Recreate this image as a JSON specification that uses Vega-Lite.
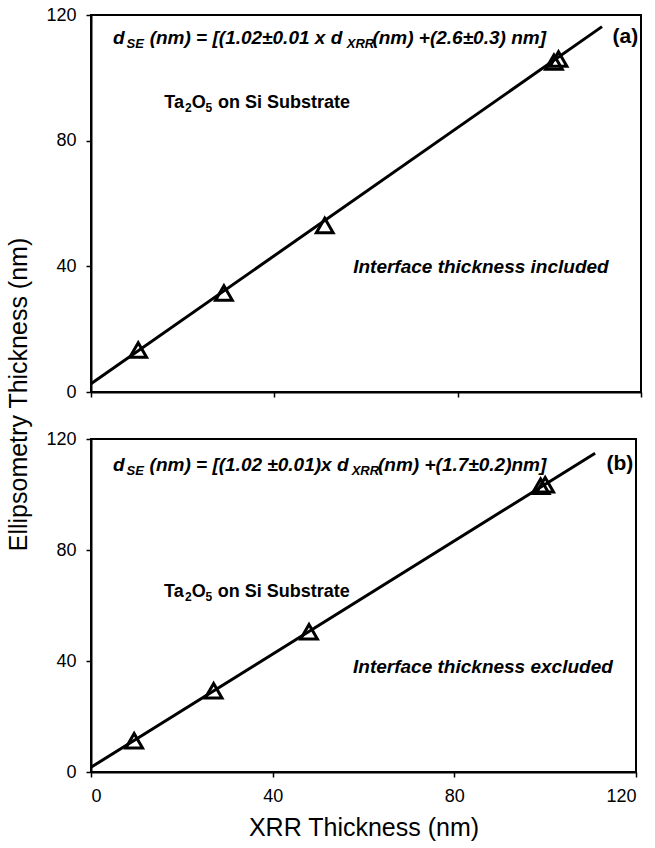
{
  "$schema": "https://vega.github.io/schema/vega-lite/v6.json",
  "padding": {"left": 5, "top": 5, "right": 5, "bottom": 5},
  "background": "white",
  "bounds": "flush",
  "spacing": 47,
  "datasets": {
    "pts": [
      {"panel": "a", "xrr": 10.3, "se": 13.4},
      {"panel": "a", "xrr": 29.0, "se": 31.5},
      {"panel": "a", "xrr": 51.0, "se": 53.0},
      {"panel": "a", "xrr": 101.0, "se": 105.0},
      {"panel": "a", "xrr": 102.0, "se": 106.0},
      {"panel": "b", "xrr": 9.5, "se": 11.3},
      {"panel": "b", "xrr": 27.0, "se": 29.3},
      {"panel": "b", "xrr": 48.0, "se": 50.5},
      {"panel": "b", "xrr": 99.0, "se": 103.0},
      {"panel": "b", "xrr": 100.0, "se": 103.5}
    ],
    "fit": [
      {"panel": "a", "xrr": 0, "se": 2.6},
      {"panel": "a", "xrr": 111.5, "se": 116.3},
      {"panel": "b", "xrr": 0, "se": 1.7},
      {"panel": "b", "xrr": 111.0, "se": 114.9}
    ],
    "notes": [
      {"panel": "a", "part": "eq", "x": 4.8, "y": 112.7, "text": "d"},
      {"panel": "a", "part": "eqsub", "x": 7.77, "y": 112.7, "text": "SE"},
      {"panel": "a", "part": "eq", "x": 12.8, "y": 112.7, "text": "(nm) = [(1.02±0.01 x d"},
      {"panel": "a", "part": "eqsub", "x": 55.8, "y": 112.7, "text": "XRR"},
      {"panel": "a", "part": "eq", "x": 61.4, "y": 112.7, "text": "(nm) +(2.6±0.3) nm]"},
      {"panel": "a", "part": "ta", "x": 16.0, "y": 92.0, "text": "Ta"},
      {"panel": "a", "part": "tasub", "x": 20.5, "y": 92.0, "text": "2"},
      {"panel": "a", "part": "ta", "x": 22.0, "y": 92.0, "text": "O"},
      {"panel": "a", "part": "tasub", "x": 25.0, "y": 92.0, "text": "5"},
      {"panel": "a", "part": "ta", "x": 27.7, "y": 92.0, "text": "on Si Substrate"},
      {"panel": "a", "part": "note", "x": 57.2, "y": 39.8, "text": "Interface thickness included"},
      {"panel": "a", "part": "tag", "x": 119.4, "y": 113.0, "text": "(a)"},
      {"panel": "b", "part": "eq", "x": 4.84, "y": 110.6, "text": "d"},
      {"panel": "b", "part": "eqsub", "x": 7.84, "y": 110.6, "text": "SE"},
      {"panel": "b", "part": "eq", "x": 12.9, "y": 110.6, "text": "(nm) = [(1.02 ±0.01)x d"},
      {"panel": "b", "part": "eqsub", "x": 57.4, "y": 110.6, "text": "XRR"},
      {"panel": "b", "part": "eq", "x": 63.2, "y": 110.6, "text": "(nm) +(1.7±0.2)nm]"},
      {"panel": "b", "part": "ta", "x": 16.1, "y": 65.0, "text": "Ta"},
      {"panel": "b", "part": "tasub", "x": 20.7, "y": 65.0, "text": "2"},
      {"panel": "b", "part": "ta", "x": 22.2, "y": 65.0, "text": "O"},
      {"panel": "b", "part": "tasub", "x": 25.2, "y": 65.0, "text": "5"},
      {"panel": "b", "part": "ta", "x": 27.9, "y": 65.0, "text": "on Si Substrate"},
      {"panel": "b", "part": "note", "x": 57.7, "y": 38.0, "text": "Interface thickness excluded"},
      {"panel": "b", "part": "tag", "x": 119.4, "y": 111.0, "text": "(b)"}
    ]
  },
  "vconcat": [
    {
      "width": 550,
      "height": 377,
      "encoding": {
        "x": {"field": "xrr", "type": "quantitative", "scale": {"domain": [0, 120], "nice": false},
              "axis": {"values": [0, 40, 80, 120], "labels": false, "title": null}},
        "y": {"field": "se", "type": "quantitative", "scale": {"domain": [0, 120], "nice": false},
              "axis": {"values": [0, 40, 80, 120], "title": "Ellipsometry Thickness  (nm)", "titleX": -60, "titleY": 379}}
      },
      "layer": [
        {"data": {"name": "fit"}, "transform": [{"filter": "datum.panel === 'a'"}],
         "mark": {"type": "line", "color": "black", "strokeWidth": 3}},
        {"data": {"name": "pts"}, "transform": [{"filter": "datum.panel === 'a'"}],
         "mark": {"type": "point", "shape": "triangle-up", "filled": false, "stroke": "black", "strokeWidth": 3, "size": 280, "opacity": 1}},
        {"data": {"name": "notes"}, "transform": [{"filter": "datum.panel === 'a' && datum.part === 'eq'"}],
         "mark": {"type": "text", "align": "left", "baseline": "middle", "font": "Liberation Sans", "fontSize": 19, "fontWeight": "bold", "fontStyle": "italic", "color": "black"},
         "encoding": {"x": {"field": "x", "type": "quantitative"}, "y": {"field": "y", "type": "quantitative"}, "text": {"field": "text"}}},
        {"data": {"name": "notes"}, "transform": [{"filter": "datum.panel === 'a' && datum.part === 'eqsub'"}],
         "mark": {"type": "text", "align": "left", "baseline": "middle", "dy": 6, "font": "Liberation Sans", "fontSize": 13, "fontWeight": "bold", "fontStyle": "italic", "color": "black"},
         "encoding": {"x": {"field": "x", "type": "quantitative"}, "y": {"field": "y", "type": "quantitative"}, "text": {"field": "text"}}},
        {"data": {"name": "notes"}, "transform": [{"filter": "datum.panel === 'a' && datum.part === 'ta'"}],
         "mark": {"type": "text", "align": "left", "baseline": "middle", "font": "Liberation Sans", "fontSize": 18, "fontWeight": "bold", "color": "black"},
         "encoding": {"x": {"field": "x", "type": "quantitative"}, "y": {"field": "y", "type": "quantitative"}, "text": {"field": "text"}}},
        {"data": {"name": "notes"}, "transform": [{"filter": "datum.panel === 'a' && datum.part === 'tasub'"}],
         "mark": {"type": "text", "align": "left", "baseline": "middle", "dy": 5, "font": "Liberation Sans", "fontSize": 12, "fontWeight": "bold", "color": "black"},
         "encoding": {"x": {"field": "x", "type": "quantitative"}, "y": {"field": "y", "type": "quantitative"}, "text": {"field": "text"}}},
        {"data": {"name": "notes"}, "transform": [{"filter": "datum.panel === 'a' && datum.part === 'note'"}],
         "mark": {"type": "text", "align": "left", "baseline": "middle", "font": "Liberation Sans", "fontSize": 19, "fontWeight": "bold", "fontStyle": "italic", "color": "black"},
         "encoding": {"x": {"field": "x", "type": "quantitative"}, "y": {"field": "y", "type": "quantitative"}, "text": {"field": "text"}}},
        {"data": {"name": "notes"}, "transform": [{"filter": "datum.panel === 'a' && datum.part === 'tag'"}],
         "mark": {"type": "text", "align": "right", "baseline": "middle", "font": "Liberation Sans", "fontSize": 21, "fontWeight": "bold", "color": "black"},
         "encoding": {"x": {"field": "x", "type": "quantitative"}, "y": {"field": "y", "type": "quantitative"}, "text": {"field": "text"}}}
      ]
    },
    {
      "width": 545,
      "height": 333,
      "encoding": {
        "x": {"field": "xrr", "type": "quantitative", "scale": {"domain": [0, 120], "nice": false},
              "axis": {"values": [0, 40, 80, 120], "title": "XRR Thickness (nm)"}},
        "y": {"field": "se", "type": "quantitative", "scale": {"domain": [0, 120], "nice": false},
              "axis": {"values": [0, 40, 80, 120], "title": null}}
      },
      "layer": [
        {"data": {"name": "fit"}, "transform": [{"filter": "datum.panel === 'b'"}],
         "mark": {"type": "line", "color": "black", "strokeWidth": 3}},
        {"data": {"name": "pts"}, "transform": [{"filter": "datum.panel === 'b'"}],
         "mark": {"type": "point", "shape": "triangle-up", "filled": false, "stroke": "black", "strokeWidth": 3, "size": 280, "opacity": 1}},
        {"data": {"name": "notes"}, "transform": [{"filter": "datum.panel === 'b' && datum.part === 'eq'"}],
         "mark": {"type": "text", "align": "left", "baseline": "middle", "font": "Liberation Sans", "fontSize": 19, "fontWeight": "bold", "fontStyle": "italic", "color": "black"},
         "encoding": {"x": {"field": "x", "type": "quantitative"}, "y": {"field": "y", "type": "quantitative"}, "text": {"field": "text"}}},
        {"data": {"name": "notes"}, "transform": [{"filter": "datum.panel === 'b' && datum.part === 'eqsub'"}],
         "mark": {"type": "text", "align": "left", "baseline": "middle", "dy": 6, "font": "Liberation Sans", "fontSize": 13, "fontWeight": "bold", "fontStyle": "italic", "color": "black"},
         "encoding": {"x": {"field": "x", "type": "quantitative"}, "y": {"field": "y", "type": "quantitative"}, "text": {"field": "text"}}},
        {"data": {"name": "notes"}, "transform": [{"filter": "datum.panel === 'b' && datum.part === 'ta'"}],
         "mark": {"type": "text", "align": "left", "baseline": "middle", "font": "Liberation Sans", "fontSize": 18, "fontWeight": "bold", "color": "black"},
         "encoding": {"x": {"field": "x", "type": "quantitative"}, "y": {"field": "y", "type": "quantitative"}, "text": {"field": "text"}}},
        {"data": {"name": "notes"}, "transform": [{"filter": "datum.panel === 'b' && datum.part === 'tasub'"}],
         "mark": {"type": "text", "align": "left", "baseline": "middle", "dy": 5, "font": "Liberation Sans", "fontSize": 12, "fontWeight": "bold", "color": "black"},
         "encoding": {"x": {"field": "x", "type": "quantitative"}, "y": {"field": "y", "type": "quantitative"}, "text": {"field": "text"}}},
        {"data": {"name": "notes"}, "transform": [{"filter": "datum.panel === 'b' && datum.part === 'note'"}],
         "mark": {"type": "text", "align": "left", "baseline": "middle", "font": "Liberation Sans", "fontSize": 19, "fontWeight": "bold", "fontStyle": "italic", "color": "black"},
         "encoding": {"x": {"field": "x", "type": "quantitative"}, "y": {"field": "y", "type": "quantitative"}, "text": {"field": "text"}}},
        {"data": {"name": "notes"}, "transform": [{"filter": "datum.panel === 'b' && datum.part === 'tag'"}],
         "mark": {"type": "text", "align": "right", "baseline": "middle", "font": "Liberation Sans", "fontSize": 21, "fontWeight": "bold", "color": "black"},
         "encoding": {"x": {"field": "x", "type": "quantitative"}, "y": {"field": "y", "type": "quantitative"}, "text": {"field": "text"}}}
      ]
    }
  ],
  "config": {
    "view": {"stroke": "black", "strokeWidth": 2},
    "axis": {
      "grid": false,
      "domainColor": "black", "domainWidth": 2,
      "tickColor": "black", "tickWidth": 1.5, "tickSize": 5,
      "labelColor": "black", "labelFont": "Liberation Sans", "labelFontSize": 18, "labelPadding": 10,
      "titleColor": "black", "titleFont": "Liberation Sans", "titleFontSize": 25, "titleFontWeight": "normal"
    },
    "axisX": {"titlePadding": 10}
  }
}
